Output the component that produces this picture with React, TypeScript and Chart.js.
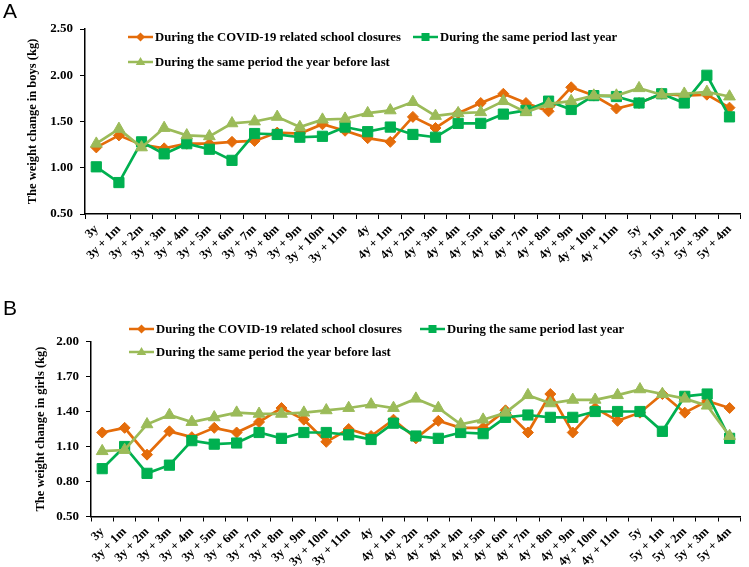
import React, { useEffect, useRef } from "react";
import { Chart, registerables } from "chart.js";

Chart.register(...registerables);

// ---------- data ----------
const categories = [
  "3y", "3y + 1m", "3y + 2m", "3y + 3m", "3y + 4m", "3y + 5m", "3y + 6m", "3y + 7m", "3y + 8m", "3y + 9m", "3y + 10m", "3y + 11m",
  "4y", "4y + 1m", "4y + 2m", "4y + 3m", "4y + 4m", "4y + 5m", "4y + 6m", "4y + 7m", "4y + 8m", "4y + 9m", "4y + 10m", "4y + 11m",
  "5y", "5y + 1m", "5y + 2m", "5y + 3m", "5y + 4m",
];

const seriesLabels = [
  "During the COVID-19 related school closures",
  "During the same period last year",
  "During the same period the year before last",
];

const boysCovid = [1.22, 1.35, 1.25, 1.21, 1.26, 1.26, 1.28, 1.29, 1.38, 1.37, 1.47, 1.40, 1.32, 1.28, 1.55, 1.43, 1.59, 1.70, 1.80, 1.70, 1.61, 1.87, 1.78, 1.64, 1.70, 1.80, 1.78, 1.79, 1.65];
const boysLastYear = [1.01, 0.84, 1.28, 1.15, 1.26, 1.20, 1.08, 1.37, 1.36, 1.33, 1.34, 1.44, 1.39, 1.44, 1.36, 1.33, 1.48, 1.48, 1.58, 1.62, 1.72, 1.63, 1.78, 1.77, 1.70, 1.80, 1.70, 2.00, 1.55];
const boysYearBeforeLast = [1.26, 1.42, 1.22, 1.43, 1.35, 1.34, 1.48, 1.50, 1.55, 1.44, 1.52, 1.53, 1.59, 1.62, 1.71, 1.56, 1.59, 1.60, 1.72, 1.60, 1.69, 1.72, 1.78, 1.78, 1.86, 1.79, 1.80, 1.82, 1.77];

const girlsCovid = [1.22, 1.26, 1.03, 1.23, 1.18, 1.26, 1.22, 1.31, 1.43, 1.33, 1.14, 1.25, 1.19, 1.33, 1.17, 1.32, 1.26, 1.26, 1.41, 1.22, 1.55, 1.22, 1.43, 1.32, 1.39, 1.55, 1.39, 1.49, 1.43];
const girlsLastYear = [0.91, 1.10, 0.87, 0.94, 1.15, 1.12, 1.13, 1.22, 1.17, 1.22, 1.22, 1.20, 1.16, 1.30, 1.19, 1.17, 1.22, 1.21, 1.35, 1.37, 1.35, 1.35, 1.40, 1.40, 1.40, 1.23, 1.53, 1.55, 1.17];
const girlsYearBeforeLast = [1.06, 1.07, 1.29, 1.37, 1.31, 1.35, 1.39, 1.38, 1.38, 1.39, 1.41, 1.43, 1.46, 1.43, 1.51, 1.43, 1.29, 1.33, 1.39, 1.54, 1.47, 1.50, 1.50, 1.54, 1.59, 1.55, 1.51, 1.45, 1.19];

const boysTicks = [0.5, 1.0, 1.5, 2.0, 2.5];
const girlsTicks = [0.5, 0.8, 1.1, 1.4, 1.7, 2.0];

// ---------- styles ----------
const ORANGE = "#E46C0A";
const GREEN = "#00B050";
const LIGHTGREEN = "#9BBB59";
const SERIF = '"Liberation Serif", "Times New Roman", serif';

function drawMarker(ctx: CanvasRenderingContext2D, style: string, x: number, y: number, r: number, color: string) {
  ctx.fillStyle = color;
  ctx.beginPath();
  if (style === "rectRot") {
    ctx.moveTo(x, y - r); ctx.lineTo(x + r, y); ctx.lineTo(x, y + r); ctx.lineTo(x - r, y);
  } else if (style === "rect") {
    ctx.rect(x - r, y - r, 2 * r, 2 * r);
  } else {
    ctx.moveTo(x, y - r * 1.1); ctx.lineTo(x + r * 1.05, y + r * 0.65); ctx.lineTo(x - r * 1.05, y + r * 0.65);
  }
  ctx.closePath();
  ctx.fill();
}

const customLegend = {
  id: "customLegend",
  afterDraw(chart: any, _args: any, opts: any) {
    if (!opts || !opts.items) return;
    const ctx: CanvasRenderingContext2D = chart.ctx;
    ctx.save();
    ctx.font = `bold 12.7px ${SERIF}`;
    ctx.textBaseline = "middle";
    ctx.textAlign = "left";
    for (const it of opts.items) {
      const ds = chart.data.datasets[it.dataset];
      ctx.strokeStyle = ds.borderColor;
      ctx.lineWidth = 2.5;
      ctx.beginPath();
      ctx.moveTo(it.x, it.y);
      ctx.lineTo(it.x + 25, it.y);
      ctx.stroke();
      drawMarker(ctx, ds.pointStyle, it.x + 12.5, it.y, ds.pointStyle === "rect" ? 4 : 4.5, ds.borderColor);
      ctx.fillStyle = "#000";
      ctx.fillText(ds.label, it.x + 27, it.y + 1);
    }
    ctx.restore();
  },
};

type PanelProps = {
  top: number;
  height: number;
  covid: number[];
  lastYear: number[];
  beforeLast: number[];
  ticks: number[];
  yTitle: string;
  paddingTop: number;
  axisLeft: number;
  titleOffset: number;
  xAxisHeight: number;
  legendItems: { dataset: number; x: number; y: number }[];
};

function Panel(p: PanelProps) {
  const ref = useRef<HTMLCanvasElement | null>(null);
  useEffect(() => {
    if (!ref.current) return;
    const tickFont = { family: SERIF, size: 13, weight: "bold" as const };
    const chart = new Chart(ref.current, {
      type: "line",
      data: {
        labels: categories,
        datasets: [
          {
            label: seriesLabels[0], data: p.covid, borderColor: ORANGE, backgroundColor: ORANGE,
            pointStyle: "rectRot", pointRadius: 5.5, pointBorderWidth: 1, borderWidth: 2.7, order: 3,
          },
          {
            label: seriesLabels[1], data: p.lastYear, borderColor: GREEN, backgroundColor: GREEN,
            pointStyle: "rect", pointRadius: 7.2, pointBorderWidth: 1, borderWidth: 2.7, order: 2,
          },
          {
            label: seriesLabels[2], data: p.beforeLast, borderColor: LIGHTGREEN, backgroundColor: LIGHTGREEN,
            pointStyle: "triangle", pointRadius: 6.8, pointBorderWidth: 1, borderWidth: 2.7, order: 1,
          },
        ] as any,
      },
      options: {
        animation: false,
        responsive: false,
        devicePixelRatio: 1,
        layout: { padding: { top: p.paddingTop, right: 3, left: 0, bottom: 0 } },
        plugins: {
          legend: { display: false },
          tooltip: { enabled: false },
          customLegend: { items: p.legendItems },
        } as any,
        scales: {
          x: {
            type: "category",
            offset: true,
            grid: { offset: true, drawOnChartArea: false, drawTicks: true, tickLength: 5, color: "#000", lineWidth: 1 },
            border: { color: "#000", width: 1.5 },
            ticks: {
              autoSkip: false, minRotation: 45, maxRotation: 45, padding: 3, color: "#000",
              font: { family: SERIF, size: 12.5, weight: "bold" },
            },
            afterFit: (s: any) => { s.height = p.xAxisHeight; },
          },
          y: {
            min: p.ticks[0],
            max: p.ticks[p.ticks.length - 1],
            afterBuildTicks: (s: any) => { s.ticks = p.ticks.map((v) => ({ value: v })); },
            grid: { drawOnChartArea: false, drawTicks: true, tickLength: 5, color: "#000", lineWidth: 1 },
            border: { color: "#000", width: 1.5 },
            ticks: {
              padding: 7, color: "#000", font: tickFont,
              callback: (v: any) => Number(v).toFixed(2),
            },
            title: {
              display: true, text: p.yTitle, color: "#000",
              font: { family: SERIF, size: 12.5, weight: "bold" },
              padding: { top: p.titleOffset, bottom: 0 },
            },
            afterFit: (s: any) => { s.width = p.axisLeft; },
          },
        },
      } as any,
      plugins: [customLegend],
    });
    return () => chart.destroy();
  }, []);
  return (
    <canvas
      ref={ref}
      width={749}
      height={p.height}
      style={{ position: "absolute", left: 0, top: p.top, width: 749, height: p.height }}
    />
  );
}

export default function App() {
  const labelStyle: React.CSSProperties = {
    position: "absolute", left: 3, fontFamily: '"Liberation Sans", Arial, sans-serif',
    fontSize: 21, lineHeight: "21px", color: "#000",
  };
  return (
    <div style={{ position: "absolute", left: 0, top: 0, width: 749, height: 567, background: "#fff", overflow: "hidden" }}>
      <Panel
        top={0}
        height={283}
        covid={boysCovid}
        lastYear={boysLastYear}
        beforeLast={boysYearBeforeLast}
        ticks={boysTicks}
        yTitle="The weight change in boys (kg)"
        paddingTop={29}
        axisLeft={85}
        titleOffset={25}
        xAxisHeight={69}
        legendItems={[
          { dataset: 0, x: 128, y: 37 },
          { dataset: 1, x: 413, y: 37 },
          { dataset: 2, x: 128, y: 62 },
        ]}
      />
      <Panel
        top={283}
        height={284}
        covid={girlsCovid}
        lastYear={girlsLastYear}
        beforeLast={girlsYearBeforeLast}
        ticks={girlsTicks}
        yTitle="The weight change in girls (kg)"
        paddingTop={58.5}
        axisLeft={91}
        titleOffset={33}
        xAxisHeight={50.5}
        legendItems={[
          { dataset: 0, x: 129, y: 46 },
          { dataset: 1, x: 420, y: 46 },
          { dataset: 2, x: 129, y: 69 },
        ]}
      />
      <div style={{ ...labelStyle, top: 0 }}>A</div>
      <div style={{ ...labelStyle, top: 297 }}>B</div>
    </div>
  );
}
